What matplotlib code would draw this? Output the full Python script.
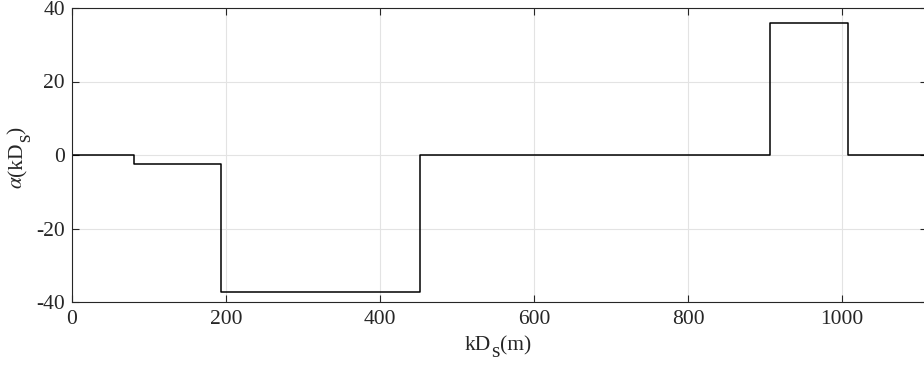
import matplotlib
matplotlib.use("Agg")
import matplotlib.pyplot as plt
import matplotlib.transforms as mtransforms
import numpy as np

plt.rcParams['font.family'] = ['Liberation Serif', 'DejaVu Serif']
plt.rcParams['mathtext.fontset'] = 'stix'
plt.rcParams['axes.unicode_minus'] = False

# step profile: breakpoints (m) and alpha value held after each one
breaks = [0, 80, 193, 452, 907, 1008, 1110]
alpha_vals = [0, -2.4, -37.4, 0, 36, 0, 0]

x_ticks = [0, 200, 400, 600, 800, 1000]
y_ticks = [-40, -20, 0, 20, 40]

dark = '#262626'
FS = 15.5


def pieced_label(fig, pieces, cx, cy, rotation=0):
    """Write label pieces one after another, centred on (cx, cy) in pixels.
    Each piece is (text, drop_px); drop moves it below the baseline."""
    ident = mtransforms.IdentityTransform()
    texts = []
    for s, drop in pieces:
        t = fig.text(0, 0, s, transform=ident, fontsize=FS, color=dark,
                     rotation=rotation, rotation_mode='anchor',
                     ha='left', va='baseline')
        texts.append((t, drop))
    fig.canvas.draw()
    r = fig.canvas.get_renderer()
    sizes = []
    for t, drop in texts:
        bb = t.get_window_extent(r)
        sizes.append(bb.height if rotation else bb.width)
    total = sum(sizes)
    pos = -total / 2
    for (t, drop), w in zip(texts, sizes):
        if rotation:
            t.set_position((cx + drop, cy + pos))
        else:
            t.set_position((cx + pos, cy - drop))
        pos += w


fig = plt.figure(figsize=(9.24, 3.66), dpi=100)
ax = fig.add_axes([72/924, 64/366, 0.925, 294/366])

ax.step(breaks, alpha_vals, where='post', color='black', linewidth=1.1)

ax.set_xlim(0, 1110)
ax.set_ylim(-40, 40)
ax.set_xticks(x_ticks)
ax.set_yticks(y_ticks)
ax.grid(True, color='#e3e3e3', linewidth=0.8)
ax.set_axisbelow(True)
ax.tick_params(direction='in', length=5, width=0.8, colors=dark, labelsize=FS,
               top=True, right=True, pad=6)
ax.tick_params(axis='y', pad=5)
for s in ax.spines.values():
    s.set_color(dark)
    s.set_linewidth(0.8)

# pixel coords measured from the bottom-left corner of the figure
pieced_label(fig, [('kD', 0), ('s', 7), ('(m)', 0)], 498, 366 - 350)
pieced_label(fig, [('$\\alpha$', 0), ('(kD', 0), ('s', 8), (')', 0)], 22, 366 - 158,
             rotation=90)

fig.savefig('out.png', dpi=100)
